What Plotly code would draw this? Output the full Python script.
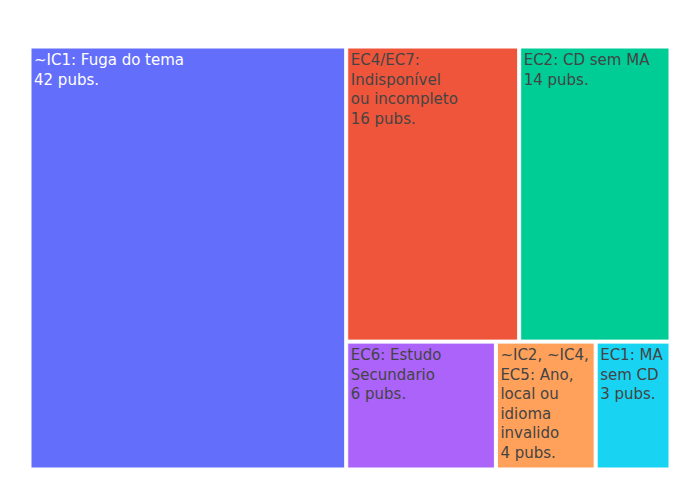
import plotly.graph_objects as go

labels = [
    "~IC1: Fuga do tema",
    "EC4/EC7:<br>Indisponível<br>ou incompleto",
    "EC2: CD sem MA",
    "EC6: Estudo<br>Secundario",
    "~IC2, ~IC4,<br>EC5: Ano,<br>local ou<br>idioma<br>invalido",
    "EC1: MA<br>sem CD",
]
values = [42, 16, 14, 6, 4, 3]
parents = [""] * len(labels)

fig = go.Figure(go.Treemap(
    labels=labels,
    parents=parents,
    values=values,
    texttemplate="%{label}<br>%{value} pubs.",
    textfont=dict(size=15, family="Verdana, DejaVu Sans, sans-serif"),
    hovertemplate="%{label}<br>%{value} pubs.<extra></extra>",
    pathbar=dict(visible=False),
    marker=dict(pad=dict(t=0, l=0, r=0, b=0)),
))
fig.update_layout(
    width=700, height=500,
    margin=dict(t=48, l=31, r=31, b=32),
    font=dict(family="Verdana, DejaVu Sans, sans-serif"),
)
fig.write_html("out.html")
